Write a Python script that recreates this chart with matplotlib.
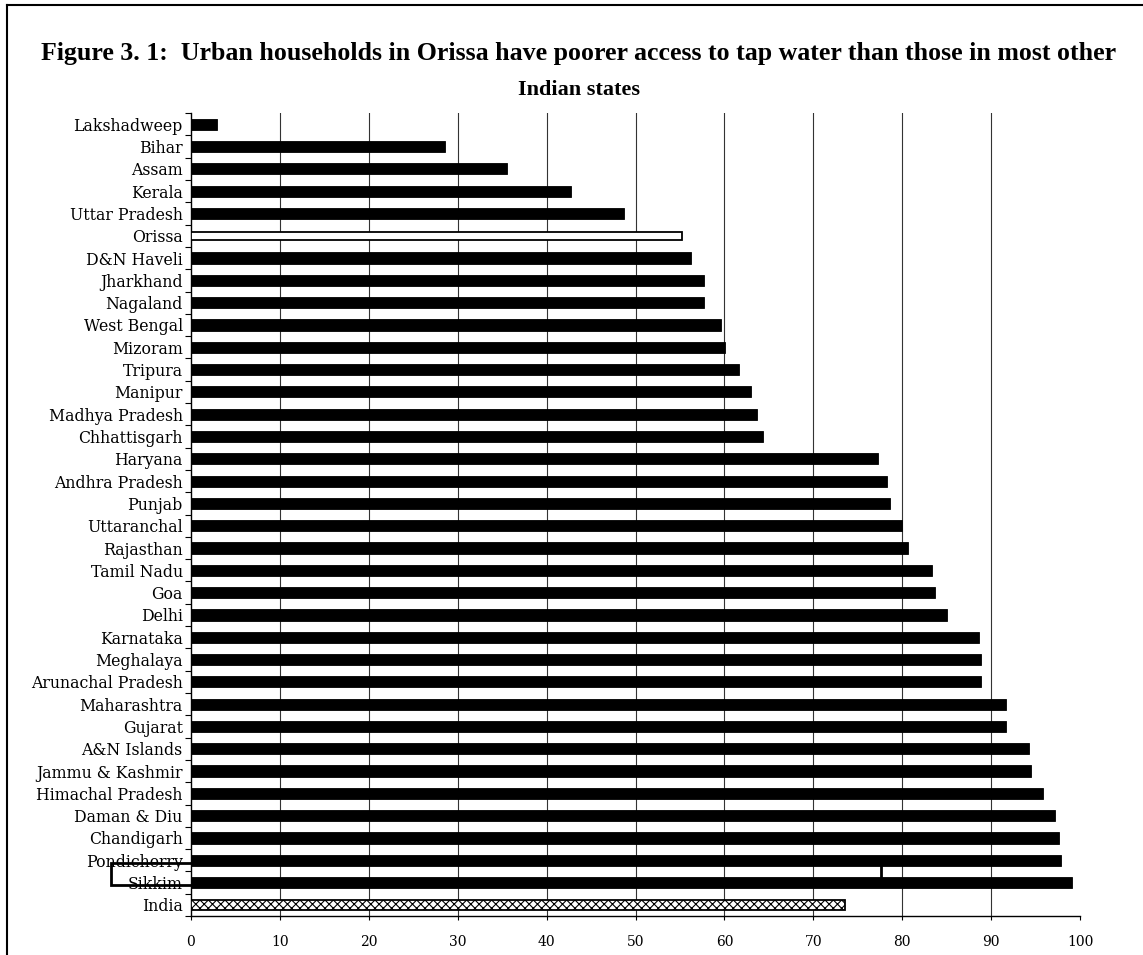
import numpy as np
import matplotlib
matplotlib.use("Agg")
import matplotlib.pyplot as plt
from matplotlib.patches import Rectangle
from matplotlib.lines import Line2D

# share of urban households with tap water (%), top to bottom
states = ["Lakshadweep", "Bihar", "Assam", "Kerala", "Uttar Pradesh", "Orissa",
          "D&N Haveli", "Jharkhand", "Nagaland", "West Bengal", "Mizoram", "Tripura",
          "Manipur", "Madhya Pradesh", "Chhattisgarh", "Haryana", "Andhra Pradesh",
          "Punjab", "Uttaranchal", "Rajasthan", "Tamil Nadu", "Goa", "Delhi",
          "Karnataka", "Meghalaya", "Arunachal Pradesh", "Maharashtra", "Gujarat",
          "A&N Islands", "Jammu & Kashmir", "Himachal Pradesh", "Daman & Diu",
          "Chandigarh", "Pondicherry", "Sikkim", "India"]
tap_water = [2.9, 28.6, 35.6, 42.7, 48.7, 55.2,
             56.2, 57.7, 57.7, 59.6, 60.1, 61.6,
             63.0, 63.7, 64.3, 77.3, 78.3,
             78.6, 80.0, 80.6, 83.4, 83.7, 85.0,
             88.6, 88.9, 88.9, 91.7, 91.7,
             94.3, 94.5, 95.8, 97.2,
             97.6, 97.9, 99.1, 73.6]
x_ticks = list(range(0, 101, 10))

title_1 = "Figure 3. 1:  Urban households in Orissa have poorer access to tap water than those in most other"
title_2 = "Indian states"

plt.rcParams["hatch.linewidth"] = 0.8

fig = plt.figure(figsize=(11.43, 9.55), dpi=100)
ax = fig.add_axes([0.1671, 0.0408, 0.7778, 0.8408])

ypos = np.arange(len(states))
for i, (name, val) in enumerate(zip(states, tap_water)):
    if name == "Orissa":
        ax.barh(i, val, height=0.38, color="white", edgecolor="black", linewidth=1.3, zorder=3)
    elif name == "India":
        ax.barh(i, val, height=0.44, color="white", edgecolor="black", hatch="xxxx",
                linewidth=1.3, zorder=3)
    else:
        ax.barh(i, val, height=0.5, color="black", edgecolor="black", linewidth=0.6, zorder=3)

# stray box left around Pondicherry / Sikkim
pi = states.index("Pondicherry")
si = states.index("Sikkim")
box = Rectangle((-9.0, pi + 0.13), 77.6 + 9.0, (si + 0.12) - (pi + 0.13),
                fill=False, edgecolor="black", linewidth=2.0, clip_on=False, zorder=2)
ax.add_patch(box)

ax.set_xlim(0, 100)
ax.set_ylim(len(states) - 0.5, -0.5)

ax.set_xticks(x_ticks)
ax.set_xticklabels([str(t) for t in x_ticks], fontfamily="DejaVu Serif", fontsize=10)
ax.tick_params(axis="x", direction="out", length=3, width=0.8, pad=11)

# category ticks sit between the bars, names sit on the bars
ax.set_yticks(np.arange(-0.5, len(states), 1))
ax.set_yticklabels([])
ax.set_yticks(ypos, minor=True)
ax.set_yticklabels(states, minor=True, fontfamily="DejaVu Serif", fontsize=11.3)
ax.tick_params(axis="y", which="major", direction="out", length=4, width=0.8)
ax.tick_params(axis="y", which="minor", length=0, pad=6)

ax.grid(axis="x", color="#333333", linewidth=0.8, zorder=0)
ax.set_axisbelow(True)
ax.xaxis.get_gridlines()[-1].set_visible(False)
ax.xaxis.get_gridlines()[0].set_visible(False)

for side in ["top", "right"]:
    ax.spines[side].set_visible(False)
ax.spines["left"].set_linewidth(1.0)
ax.spines["bottom"].set_linewidth(1.0)

fig.text(0.5066, 1 - 60 / 955, title_1, ha="center", va="baseline",
         fontfamily="Liberation Serif", fontweight="bold", fontsize=18.6)
fig.text(0.5066, 1 - 95 / 955, title_2, ha="center", va="baseline",
         fontfamily="Liberation Serif", fontweight="bold", fontsize=16)

# page frame (top and left edges)
fig.add_artist(Line2D([0.0061, 1.0], [0.9945, 0.9945], color="black", linewidth=1.5))
fig.add_artist(Line2D([0.0061, 0.0061], [0.0, 0.9945], color="black", linewidth=1.5))

fig.savefig("out.png", dpi=100)
